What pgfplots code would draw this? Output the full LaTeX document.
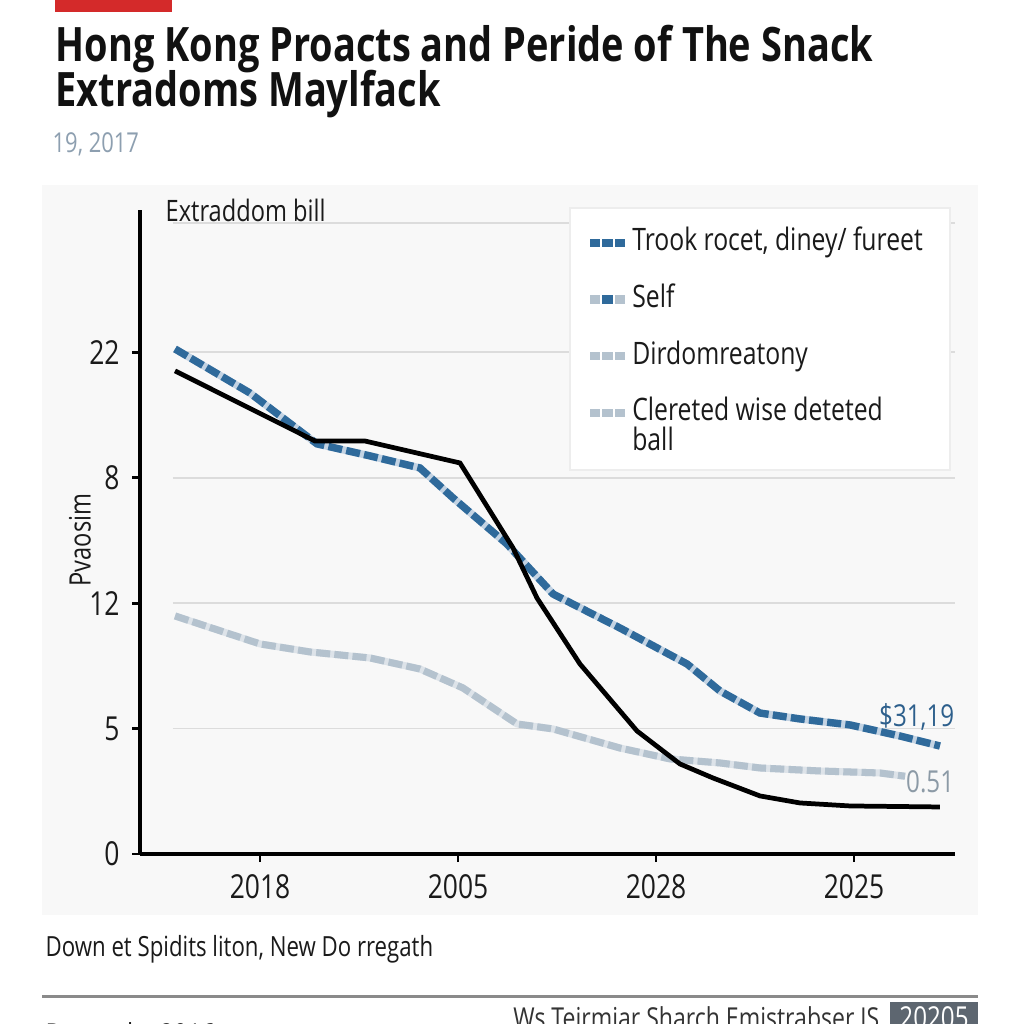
\documentclass[border=0pt]{standalone}
\usepackage{pgfplots}
\pgfplotsset{compat=1.18}
\usepackage{fontspec}
\setmainfont[FakeStretch=0.8]{Open Sans}
\newfontfamily\titlefont[FakeStretch=0.8]{Open Sans}
\definecolor{redbar}{HTML}{D42A2A}
\definecolor{titlecol}{HTML}{111111}
\definecolor{datecol}{HTML}{8D9FB0}
\definecolor{panel}{HTML}{F8F8F8}
\definecolor{gridc}{HTML}{DCDCDC}
\definecolor{dblue}{HTML}{2F6A9B}
\definecolor{lblue}{HTML}{C3D3E3}
\definecolor{lgray}{HTML}{B4C2CE}
\definecolor{lgrayu}{HTML}{DDE3E9}
\definecolor{annblue}{HTML}{2D5F8C}
\definecolor{anngray}{HTML}{8C9AA6}
\definecolor{txt}{HTML}{1A1A1A}
\definecolor{rulec}{HTML}{8A8A8A}
\definecolor{boxc}{HTML}{5D6670}

\pgfplotstableread{
x y
-0.429 3.852
0.278 3.293
0.530 3.293
1.010 3.118
1.278 2.440
1.399 2.041
1.616 1.515
1.904 0.981
2.121 0.718
2.288 0.606
2.525 0.463
2.727 0.407
2.980 0.383
3.434 0.375
}\blackdata
\pgfplotstableread{
x y
-0.429 4.027
-0.051 3.676
0.288 3.270
0.556 3.174
0.808 3.078
0.975 2.839
1.247 2.472
1.480 2.073
1.818 1.802
2.157 1.515
2.323 1.300
2.525 1.124
2.727 1.077
2.980 1.029
3.232 0.941
3.434 0.861
}\bluedata
\pgfplotstableread{
x y
-0.429 1.898
0.000 1.675
0.253 1.611
0.556 1.563
0.808 1.475
1.025 1.324
1.298 1.037
1.480 0.997
1.818 0.845
2.071 0.758
2.323 0.726
2.525 0.686
2.828 0.662
3.131 0.646
3.258 0.620
}\graydata

\begin{document}
\begin{tikzpicture}[x=0.1mm,y=0.1mm]
\useasboundingbox (0,0) rectangle (1024,1024);
\fill[white] (0,0) rectangle (1024,1024);
\fill[redbar] (55,1012) rectangle (172,1024);
\node[anchor=base west, inner sep=0, font=\titlefont\bfseries\fontsize{13.5}{15}\selectfont, text=titlecol] at (55,962) {Hong Kong Proacts and Peride of The Snack};
\node[anchor=base west, inner sep=0, font=\titlefont\bfseries\fontsize{13.5}{15}\selectfont, text=titlecol] at (55,917) {Extradoms Maylfack};
\node[anchor=base west, inner sep=0, font=\fontsize{7.8}{10}\selectfont, text=datecol] at (52,871) {19, 2017};
\fill[panel] (42,109) rectangle (978,839);
\node[anchor=base west, inner sep=0, font=\fontsize{8.4}{10}\selectfont, text=txt] at (165,802) {Extraddom bill};
\node[rotate=90, inner sep=0, font=\fontsize{8.4}{10}\selectfont, text=txt] at (80,484) {Pvaosim};

\begin{axis}[
  at={(14mm,17mm)}, anchor=south west,
  scale only axis, width=81.5mm, height=64.4mm,
  xmin=-0.606, xmax=3.51, ymin=0, ymax=5.135,
  axis lines=left,
  axis line style={-, black, line width=1pt},
  xtick={0,1,2,3}, xticklabels={2018,2005,2028,2025},
  ytick={0,1,2,3,4}, yticklabels={0,5,12,8,22},
  tick align=outside, major tick length=0.8mm,
  tick style={black, line width=0.8pt},
  ticklabel style={font=\fontsize{9.4}{10}\selectfont, text=txt},
  /pgf/number format/assume math mode=true,
  clip=false,
  legend style={at={(rel axis cs:0.552,0.972)}, anchor=north west,
    draw=none, fill=none, inner sep=0pt, outer sep=0pt,
    row sep=7.6pt, column sep=2pt,
    font=\fontsize{8.8}{10}\selectfont, text=txt,
    nodes={inner sep=0pt, text height=6.5pt, text depth=2pt}},
  legend cell align=left,
]
\foreach \k in {1,2,3,4,5.03} {
  \edef\tmp{\noexpand\draw[gridc, line width=0.5pt] (axis cs:-0.44,\k) -- (axis cs:3.51,\k);}
  \tmp
}
\filldraw[fill=white, draw=black!7, line width=0.4pt] (rel axis cs:0.5276,0.596) rectangle (rel axis cs:0.9939,1.003);
\addplot[forget plot, lgrayu, line width=2pt] table[x=x,y=y] {\graydata};
\addplot[forget plot, lgray, line width=2pt, dash pattern=on 4pt off 1.2pt] table[x=x,y=y] {\graydata};
\addplot[forget plot, lblue, line width=2.1pt] table[x=x,y=y] {\bluedata};
\addplot[forget plot, dblue, line width=2.1pt, dash pattern=on 4pt off 1.2pt] table[x=x,y=y] {\bluedata};
\addplot[forget plot, black, line width=1.35pt] table[x=x,y=y] {\blackdata};

\addlegendimage{legend image code/.code={
  \fill[dblue] (0mm,-0.35mm) rectangle (0.9mm,0.35mm);
  \fill[dblue] (1.25mm,-0.35mm) rectangle (2.15mm,0.35mm);
  \fill[dblue] (2.5mm,-0.35mm) rectangle (3.4mm,0.35mm);}}
\addlegendentry{Trook rocet, diney/ fureet}
\addlegendimage{legend image code/.code={
  \fill[lgray] (0mm,-0.35mm) rectangle (0.9mm,0.35mm);
  \fill[dblue] (1.25mm,-0.35mm) rectangle (2.15mm,0.35mm);
  \fill[lgray] (2.5mm,-0.35mm) rectangle (3.4mm,0.35mm);}}
\addlegendentry{Self}
\addlegendimage{legend image code/.code={
  \fill[lgray] (0mm,-0.35mm) rectangle (0.9mm,0.35mm);
  \fill[lgray] (1.25mm,-0.35mm) rectangle (2.15mm,0.35mm);
  \fill[lgray] (2.5mm,-0.35mm) rectangle (3.4mm,0.35mm);}}
\addlegendentry{Dirdomreatony}
\addlegendimage{legend image code/.code={
  \fill[lgray] (0mm,-0.35mm) rectangle (0.9mm,0.35mm);
  \fill[lgray] (1.25mm,-0.35mm) rectangle (2.15mm,0.35mm);
  \fill[lgray] (2.5mm,-0.35mm) rectangle (3.4mm,0.35mm);}}
\addlegendentry{\smash{\rlap{\raisebox{-3mm}{ball}}}Clereted wise deteted}

\node[font=\fontsize{8.6}{10}\selectfont, text=annblue, anchor=south east, inner sep=0pt] at (axis cs:3.51,0.98) {\$31,19};
\node[font=\fontsize{8.6}{10}\selectfont, text=anngray, anchor=west, inner sep=0pt] at (axis cs:3.26,0.58) {0.51};
\end{axis}

\node[anchor=base west, inner sep=0, font=\fontsize{7.9}{10}\selectfont, text=txt] at (45,67) {Down et Spidits liton, New Do rregath};
\draw[rulec, line width=0.3mm] (42,27) -- (978,27);
\node[anchor=base west, inner sep=0, font=\fontsize{8.6}{10}\selectfont, text=txt] at (45,-21) {Rauaruby 2016};
\node[anchor=base east, inner sep=0, font=\fontsize{8.2}{10}\selectfont, text=black!80] at (880,-4) {Ws Teirmiar Sharch Emistrabser JS};
\fill[boxc] (890,-10) rectangle (978,22);
\node[anchor=base, inner sep=0, font=\fontsize{8.6}{10}\selectfont, text=white] at (934,-4) {20205};
\end{tikzpicture}
\end{document}
